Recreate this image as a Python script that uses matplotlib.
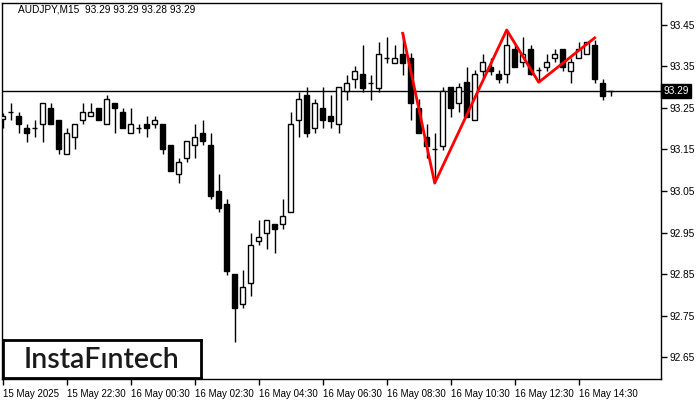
import matplotlib
matplotlib.use("Agg")
import matplotlib.pyplot as plt
from matplotlib.patches import Rectangle
from matplotlib.transforms import blended_transform_factory

# AUDJPY M15 candles, 15 May 20:30 -> 16 May 15:30
opens = [93.223, 93.240, 93.231, 93.202, 93.201, 93.211, 93.250, 93.221, 93.139, 93.180,
         93.221, 93.231, 93.250, 93.211, 93.262, 93.240, 93.190, 93.202, 93.211, 93.211,
         93.211, 93.161, 93.091, 93.130, 93.161, 93.190, 93.161, 93.050, 93.019, 92.850,
         92.778, 92.828, 92.930, 92.949, 92.970, 92.970, 92.999, 93.221, 93.281, 93.202,
         93.250, 93.231, 93.211, 93.291, 93.320, 93.332, 93.310, 93.298, 93.370, 93.358,
         93.380, 93.370, 93.250, 93.180, 93.151, 93.158, 93.301, 93.262, 93.313, 93.221,
         93.339, 93.349, 93.332, 93.332, 93.392, 93.361, 93.392, 93.342, 93.349, 93.370,
         93.392, 93.339, 93.370, 93.380, 93.402, 93.310, 93.290]
highs = [93.238, 93.262, 93.240, 93.211, 93.221, 93.262, 93.262, 93.221, 93.202, 93.211,
         93.262, 93.262, 93.250, 93.281, 93.262, 93.250, 93.250, 93.211, 93.231, 93.231,
         93.211, 93.161, 93.130, 93.170, 93.211, 93.221, 93.190, 93.091, 93.031, 92.850,
         92.860, 92.949, 92.980, 92.980, 92.970, 93.031, 93.240, 93.289, 93.301, 93.272,
         93.301, 93.281, 93.301, 93.330, 93.351, 93.402, 93.330, 93.409, 93.421, 93.402,
         93.431, 93.383, 93.272, 93.211, 93.190, 93.301, 93.301, 93.310, 93.349, 93.342,
         93.380, 93.370, 93.342, 93.438, 93.402, 93.421, 93.402, 93.349, 93.380, 93.392,
         93.392, 93.370, 93.409, 93.409, 93.414, 93.320, 93.290]
lows = [93.202, 93.221, 93.190, 93.168, 93.180, 93.168, 93.211, 93.139, 93.139, 93.151,
        93.211, 93.231, 93.221, 93.211, 93.190, 93.202, 93.190, 93.190, 93.180, 93.202,
        93.139, 93.098, 93.069, 93.120, 93.130, 93.161, 93.031, 92.999, 92.848, 92.686,
        92.768, 92.797, 92.920, 92.910, 92.901, 92.958, 92.999, 93.180, 93.180, 93.190,
        93.202, 93.202, 93.190, 93.269, 93.298, 93.289, 93.269, 93.289, 93.358, 93.358,
        93.330, 93.221, 93.190, 93.130, 93.075, 93.149, 93.228, 93.240, 93.228, 93.221,
        93.322, 93.330, 93.310, 93.310, 93.349, 93.349, 93.330, 93.313, 93.339, 93.361,
        93.339, 93.310, 93.370, 93.380, 93.310, 93.269, 93.280]
closes = [93.231, 93.241, 93.211, 93.190, 93.202, 93.262, 93.211, 93.151, 93.190, 93.211,
          93.240, 93.240, 93.221, 93.272, 93.250, 93.202, 93.211, 93.201, 93.202, 93.221,
          93.151, 93.098, 93.120, 93.170, 93.180, 93.170, 93.038, 93.009, 92.857, 92.768,
          92.819, 92.920, 92.939, 92.980, 92.958, 92.990, 93.211, 93.272, 93.190, 93.262,
          93.221, 93.219, 93.301, 93.310, 93.339, 93.298, 93.311, 93.380, 93.369, 93.370,
          93.358, 93.262, 93.190, 93.158, 93.150, 93.291, 93.250, 93.301, 93.228, 93.332,
          93.361, 93.339, 93.320, 93.402, 93.349, 93.380, 93.332, 93.341, 93.361, 93.380,
          93.349, 93.361, 93.392, 93.409, 93.320, 93.279, 93.290]

# pattern (red) line
pattern_idx = [50, 54, 63, 67, 74]
pattern_price = [93.430, 93.069, 93.438, 93.312, 93.419]

last_price = 93.29
yticks = [92.65, 92.75, 92.85, 92.95, 93.05, 93.15, 93.25, 93.35, 93.45]
xtick_idx = [0, 8, 16, 24, 32, 40, 48, 56, 64, 72]
xtick_labels = ["15 May 2025", "15 May 22:30", "16 May 00:30", "16 May 02:30", "16 May 04:30",
                "16 May 06:30", "16 May 08:30", "16 May 10:30", "16 May 12:30", "16 May 14:30"]

plt.rcParams["font.family"] = ["Liberation Sans", "DejaVu Sans"]

fig = plt.figure(figsize=(7, 4), dpi=100)
ax = fig.add_axes([2 / 700, 21 / 400, 658.7 / 700, 376 / 400])

w = 0.62
for i in range(len(opens)):
    o, h, l, c = opens[i], highs[i], lows[i], closes[i]
    ax.vlines(i, l, h, color="black", linewidth=1, zorder=2)
    lo, hi = min(o, c), max(o, c)
    if hi - lo < 0.002:
        ax.hlines(o, i - w / 2, i + w / 2, color="black", linewidth=1, zorder=3)
    else:
        face = "white" if c > o else "black"
        ax.add_patch(Rectangle((i - w / 2, lo), w, hi - lo, facecolor=face,
                               edgecolor="black", linewidth=1, zorder=3))

ax.axhline(last_price, color="black", linewidth=1, zorder=1)
ax.plot(pattern_idx, pattern_price, color="#ff0000", linewidth=2, zorder=4)

ax.set_xlim(-0.09, 82.25)
ax.set_ylim(92.597, 93.503)
ax.yaxis.tick_right()
ax.set_yticks(yticks)
ax.set_yticklabels([f"{v:.2f}" for v in yticks], fontsize=7.3)
ax.set_xticks(xtick_idx)
ax.set_xticklabels(xtick_labels, fontsize=7, ha="left")
ax.tick_params(axis="both", direction="out", length=4, width=1, color="black", pad=2)
ax.tick_params(axis="x", pad=3)
for s in ax.spines.values():
    s.set_linewidth(1)
    s.set_color("black")

tr = blended_transform_factory(ax.transAxes, ax.transData)
ax.text(1.004, last_price, f"{last_price:.2f}", transform=tr, fontsize=7.3, color="white",
        va="center", ha="left",
        bbox=dict(boxstyle="square,pad=0.2", facecolor="black", edgecolor="black"))

fig.text(18 / 700, 1 - 10 / 400, "AUDJPY,M15  93.29 93.29 93.28 93.29", fontsize=7.3,
         va="center", ha="left", color="black")

# logo box
lax = fig.add_axes([3 / 700, 1 - 378 / 400, 198 / 700, 38 / 400])
lax.set_xticks([])
lax.set_yticks([])
for s in lax.spines.values():
    s.set_linewidth(2)
lax.text(0.5, 0.47, "InstaF\u0131ntech", fontsize=20.5, family="Lato", fontweight="semibold",
         ha="center", va="center", color="#1a1a1a", transform=lax.transAxes)

fig.savefig("out.png", dpi=100)
